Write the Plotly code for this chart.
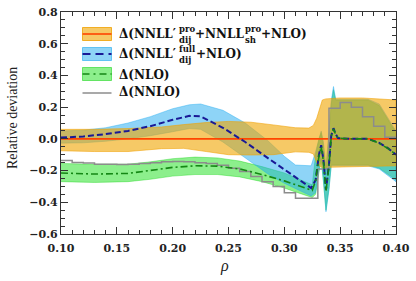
import plotly.graph_objects as go

# ---------------- data ----------------
# NNLL'_dij^pro + NNLL_sh^pro + NLO  (reference, central = 0)
x_pro = [0.10, 0.13, 0.16, 0.19, 0.21, 0.23, 0.25, 0.27, 0.29, 0.31, 0.322, 0.326, 0.329, 0.332, 0.334, 0.337, 0.35, 0.37, 0.39, 0.40]
pro_center = [0.0] * len(x_pro)
pro_upper = [0.060, 0.060, 0.065, 0.075, 0.090, 0.103, 0.110, 0.105, 0.088, 0.070, 0.068, 0.085, 0.130, 0.200, 0.245, 0.252, 0.258, 0.258, 0.252, 0.245]
pro_lower = [-0.075, -0.080, -0.080, -0.062, -0.060, -0.080, -0.100, -0.102, -0.100, -0.082, -0.085, -0.095, -0.150, -0.175, -0.180, -0.180, -0.178, -0.175, -0.172, -0.170]

# NNLL'_dij^full + NLO
x_full = [0.10, 0.12, 0.14, 0.16, 0.18, 0.20, 0.215, 0.225, 0.245, 0.265, 0.285, 0.30, 0.31, 0.318, 0.324, 0.328, 0.331, 0.333, 0.335, 0.3373, 0.340, 0.342, 0.344, 0.346, 0.348, 0.36, 0.375, 0.385, 0.393, 0.40]
full_center = [0.008, 0.015, 0.03, 0.05, 0.08, 0.12, 0.145, 0.142, 0.07, -0.02, -0.12, -0.195, -0.24, -0.285, -0.31, -0.26, -0.10, -0.04, -0.13, -0.32, -0.16, 0.02, 0.067, 0.03, 0.005, 0.0, 0.0, -0.025, -0.06, -0.10]
full_upper = [0.05, 0.055, 0.07, 0.10, 0.14, 0.19, 0.215, 0.22, 0.18, 0.10, -0.01, -0.11, -0.165, -0.17, -0.17, -0.08, 0.01, 0.05, -0.02, -0.18, 0.05, 0.24, 0.33, 0.25, 0.25, 0.25, 0.25, 0.22, 0.13, 0.05]
full_lower = [-0.027, -0.025, -0.015, 0.0, 0.02, 0.045, 0.065, 0.06, -0.02, -0.12, -0.22, -0.28, -0.31, -0.34, -0.36, -0.34, -0.20, -0.12, -0.26, -0.46, -0.32, -0.17, -0.17, -0.17, -0.17, -0.17, -0.17, -0.19, -0.23, -0.27]

# NLO
x_nlo = [0.10, 0.13, 0.16, 0.18, 0.20, 0.22, 0.24, 0.26, 0.28, 0.30, 0.31, 0.32, 0.325, 0.328, 0.331, 0.333, 0.335, 0.3373, 0.340, 0.342, 0.344, 0.346, 0.348, 0.36, 0.375, 0.385, 0.393, 0.40]
nlo_center = [-0.215, -0.222, -0.218, -0.20, -0.18, -0.17, -0.172, -0.19, -0.225, -0.265, -0.29, -0.315, -0.325, -0.265, -0.11, -0.05, -0.14, -0.33, -0.17, 0.015, 0.062, 0.028, 0.004, 0.0, 0.0, -0.028, -0.062, -0.10]
nlo_upper = [-0.155, -0.16, -0.16, -0.145, -0.125, -0.115, -0.12, -0.14, -0.175, -0.215, -0.245, -0.275, -0.29, -0.10, 0.0, 0.04, -0.04, -0.20, 0.03, 0.22, 0.31, 0.245, 0.245, 0.245, 0.245, 0.21, 0.12, 0.04]
nlo_lower = [-0.27, -0.275, -0.27, -0.255, -0.235, -0.225, -0.225, -0.24, -0.27, -0.31, -0.335, -0.36, -0.37, -0.35, -0.21, -0.13, -0.27, -0.45, -0.31, -0.165, -0.165, -0.165, -0.165, -0.165, -0.165, -0.185, -0.225, -0.26]

# NNLO histogram (bin edges 0.10 ... 0.40, width 0.01)
nnlo_edges = [round(0.10 + 0.01 * i, 2) for i in range(31)]
nnlo_values = [-0.137, -0.149, -0.152, -0.160, -0.160, -0.162, -0.160, -0.155, -0.150, -0.145,
               -0.143, -0.145, -0.150, -0.155, -0.166, -0.185, -0.206, -0.237, -0.270, -0.300,
               -0.340, -0.374, -0.374, -0.190, 0.193, 0.230, 0.200, 0.140, 0.080, 0.010]

x_ticks = [0.10, 0.15, 0.20, 0.25, 0.30, 0.35, 0.40]
y_ticks = [-0.6, -0.4, -0.2, 0.0, 0.2, 0.4, 0.6, 0.8]

# ---------------- styles ----------------
C_ORANGE = "rgba(240,165,0,0.6)"
C_ORANGE_E = "rgba(240,160,0,0.8)"
C_BLUE = "rgba(30,170,240,0.5)"
C_BLUE_E = "rgba(30,170,240,0.6)"
C_GREEN = "rgba(0,220,0,0.45)"
C_GREEN_E = "rgba(0,210,0,0.5)"
C_RED = "rgb(255,69,0)"
C_NAVY = "rgb(25,25,150)"
C_DGREEN = "rgb(20,135,20)"
C_GRAY = "rgb(140,140,140)"


def band(x, lo, hi, fill, edge):
    return go.Scatter(x=list(x) + list(x)[::-1], y=list(hi) + list(lo)[::-1],
                      fill="toself", fillcolor=fill, mode="lines",
                      line=dict(color=edge, width=0.7), hoverinfo="skip",
                      showlegend=False)


fig = go.Figure()
fig.add_trace(band(x_nlo, nlo_lower, nlo_upper, C_GREEN, C_GREEN_E))
fig.add_trace(band(x_full, full_lower, full_upper, C_BLUE, C_BLUE_E))
fig.add_trace(band(x_pro, pro_lower, pro_upper, C_ORANGE, C_ORANGE_E))

fig.add_trace(go.Scatter(x=x_pro, y=pro_center, mode="lines",
                         line=dict(color=C_RED, width=1.6), showlegend=False))
fig.add_trace(go.Scatter(x=nnlo_edges, y=nnlo_values + [nnlo_values[-1]], mode="lines",
                         line=dict(color=C_GRAY, width=1.5, shape="hv"), showlegend=False))
fig.add_trace(go.Scatter(x=x_full, y=full_center, mode="lines",
                         line=dict(color=C_NAVY, width=2, dash="6px,3px"), showlegend=False))
fig.add_trace(go.Scatter(x=x_nlo, y=nlo_center, mode="lines",
                         line=dict(color=C_DGREEN, width=1.6, dash="7px,3px,2px,3px"), showlegend=False))

# ---------------- layout ----------------
L, R, T, B = 61, 20, 12, 47
W, H = 416, 281
PW, PH = W - L - R, H - T - B


def px(xp):
    return (xp - L) / PW


def py(yp):
    return (H - B - yp) / PH


tick_font = dict(family="DejaVu Serif", size=11, color="#222", weight="bold")
axis_common = dict(showgrid=False, zeroline=False, showline=True, linecolor="#333",
                   linewidth=1.2, mirror="allticks", ticks="inside", ticklen=7,
                   tickwidth=1, tickcolor="#333", tickfont=tick_font, automargin=False)

fig.update_layout(
    width=W, height=H, margin=dict(l=L, r=R, t=T, b=B),
    paper_bgcolor="white", plot_bgcolor="white", showlegend=False,
    xaxis=dict(range=[0.10, 0.40], tickvals=x_ticks, tickformat=".2f",
               minor=dict(dtick=0.01, ticks="inside", ticklen=4, tickcolor="#333"),
               ticklabelstandoff=4, **axis_common),
    yaxis=dict(range=[-0.6, 0.8], tickvals=y_ticks, tickformat=".1f",
               minor=dict(dtick=0.05, ticks="inside", ticklen=4, tickcolor="#333"),
               **axis_common),
)

ann = []
ann.append(dict(text="Relative deviation", x=12, y=118, textangle=-90,
                font=dict(family="Liberation Serif", size=14, color="#222")))
ann.append(dict(text="<i>ρ</i>", x=224, y=266,
                font=dict(family="Liberation Serif", size=16, color="#222")))
for a in ann:
    a.update(x=px(a["x"]), y=py(a["y"]), xref="paper", yref="paper",
             xanchor="center", yanchor="middle", showarrow=False)

LF = dict(family="DejaVu Serif", size=12, color="#111", weight="bold")
SF = dict(family="DejaVu Serif", size=8.5, color="#111", weight="bold")


def txt(s, xp, yp, f):
    ann.append(dict(text=s, x=px(xp), y=py(yp), xref="paper", yref="paper",
                    xanchor="left", yanchor="middle", showarrow=False, font=f))


# legend entry 1
txt("Δ(NNLL′", 117, 34, LF)
txt("pro", 177, 28.5, SF)
txt("dij", 177, 40, SF)
txt("+NNLL", 193, 34, LF)
txt("pro", 243, 28.5, SF)
txt("sh", 243, 40, SF)
txt("+NLO)", 259, 34, LF)
# entry 2
txt("Δ(NNLL′", 117, 54, LF)
txt("full", 177, 48.5, SF)
txt("dij", 177, 60, SF)
txt("+NLO)", 194, 54, LF)
# entry 3, 4
txt("Δ(NLO)", 117, 75, LF)
txt("Δ(NNLO)", 117, 92, LF)

shapes = []
sx0, sx1 = 82.5, 111.5
for (yc, fill, edge) in [(34, C_ORANGE, C_ORANGE_E), (54, C_BLUE, C_BLUE_E), (74, C_GREEN, C_GREEN_E)]:
    shapes.append(dict(type="rect", xref="paper", yref="paper",
                       x0=px(sx0), x1=px(sx1), y0=py(yc - 6.5), y1=py(yc + 6.5),
                       fillcolor=fill, line=dict(color=edge, width=1)))
shapes.append(dict(type="line", xref="paper", yref="paper", x0=px(sx0), x1=px(sx1),
                   y0=py(34), y1=py(34), line=dict(color=C_RED, width=1.6)))
shapes.append(dict(type="line", xref="paper", yref="paper", x0=px(sx0), x1=px(sx1),
                   y0=py(54), y1=py(54), line=dict(color=C_NAVY, width=2, dash="8px,5px")))
shapes.append(dict(type="line", xref="paper", yref="paper", x0=px(sx0), x1=px(sx1),
                   y0=py(74), y1=py(74), line=dict(color=C_DGREEN, width=1.6, dash="7px,4px,2px,4px")))
shapes.append(dict(type="line", xref="paper", yref="paper", x0=px(sx0), x1=px(sx1),
                   y0=py(93), y1=py(93), line=dict(color=C_GRAY, width=1.5)))

fig.update_layout(annotations=ann, shapes=shapes)
fig.write_html("out.html", config={"displayModeBar": False},
               post_script="document.body.style.margin='0px';")
